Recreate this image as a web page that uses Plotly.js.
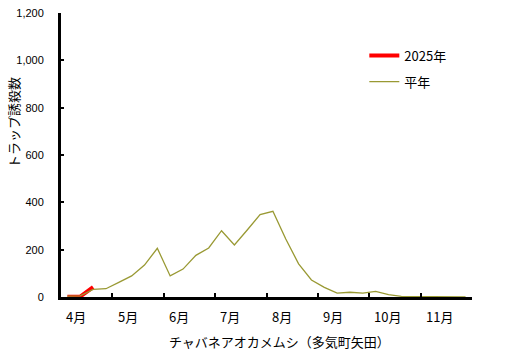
<!DOCTYPE html>
<html>
<head>
<meta charset="utf-8">
<script src="https://cdn.plot.ly/plotly-3.0.1.min.js"></script>
<style>html,body{margin:0;padding:0;background:#fff;}#chart{width:507px;height:364px;}</style>
</head>
<body>
<div id="chart"></div>
<script>
// Months on the x axis (4 survey periods per month)
const months = ['4月','5月','6月','7月','8月','9月','10月','11月'];
const periodsPerMonth = 4;
// Average year (平年) trap catches per period, April..November
const normalValues = [4, 5, 32, 35, 62, 89, 135, 206, 89, 118, 176, 207, 280, 220, 283, 348,
                      362, 245, 140, 72, 41, 16, 20, 16, 24, 10, 3, 2, 1, 1, 0, 0];
// 2025 trap catches so far
const values2025 = [1, 2, 42];
const yTicks = [0, 200, 400, 600, 800, 1000, 1200];

const periodIdx = normalValues.map((_, i) => i);
const idx2025 = values2025.map((_, i) => i);
const boundaries = months.map((_, m) => (m + 1) * periodsPerMonth - 0.5);

const font = "'Noto Sans CJK JP', 'Liberation Sans', sans-serif";

const traces = [
  {x: idx2025, y: values2025, type: 'scatter', mode: 'lines', name: '2025年',
   line: {color: '#ff0000', width: 4}, legend: 'legend'},
  {x: periodIdx, y: normalValues, type: 'scatter', mode: 'lines', name: '平年',
   line: {color: '#999933', width: 1.3}, legend: 'legend2'}
];

const annotations = months.map((m, k) => ({
  text: m, x: k * periodsPerMonth - 0.5 + 0.25, xref: 'x', xanchor: 'left',
  y: -0.069, yref: 'paper', yanchor: 'middle', showarrow: false,
  font: {family: font, size: 13, color: '#000'}
}));
annotations.push({
  text: 'トラップ誘殺数', textangle: -90, xref: 'paper', yref: 'paper',
  x: -0.115, y: 0.615, xanchor: 'center', yanchor: 'middle', showarrow: false,
  font: {family: font, size: 13, color: '#000'}
});
annotations.push({
  text: 'チャバネアオカメムシ（多気町矢田）', xref: 'paper', yref: 'paper',
  x: 0.532, y: -0.158, xanchor: 'center', yanchor: 'middle', showarrow: false,
  font: {family: font, size: 13, color: '#000'}
});

const layout = {
  width: 507, height: 364,
  margin: {l: 61, r: 35, t: 13, b: 67},
  paper_bgcolor: '#fff', plot_bgcolor: '#fff',
  showlegend: true,
  xaxis: {
    range: [-0.5, periodsPerMonth * months.length - 0.5],
    tickmode: 'array', tickvals: boundaries, showticklabels: false,
    ticks: 'inside', ticklen: 4, tickwidth: 2, tickcolor: '#000',
    showline: true, linewidth: 3, linecolor: '#000',
    showgrid: false, zeroline: false, fixedrange: true
  },
  yaxis: {
    range: [0, 1200], tickmode: 'array', tickvals: yTicks, tickformat: ',d',
    ticks: 'inside', ticklen: 3, tickwidth: 2, tickcolor: '#000',
    showline: true, linewidth: 3, linecolor: '#000',
    showgrid: false, zeroline: false,
    tickfont: {family: "'Liberation Sans', Arial, sans-serif", size: 11, color: '#000'},
    ticklabelstandoff: 12, fixedrange: true
  },
  legend: {x: 0.738, y: 0.85, xanchor: 'left', yanchor: 'middle', bgcolor: 'rgba(0,0,0,0)',
           font: {family: font, size: 13, color: '#000'}, borderwidth: 0},
  legend2: {x: 0.738, y: 0.758, xanchor: 'left', yanchor: 'middle', bgcolor: 'rgba(0,0,0,0)',
            font: {family: font, size: 13, color: '#000'}, borderwidth: 0},
  annotations: annotations
};

Plotly.newPlot('chart', traces, layout, {displayModeBar: false, staticPlot: true});
</script>
</body>
</html>
